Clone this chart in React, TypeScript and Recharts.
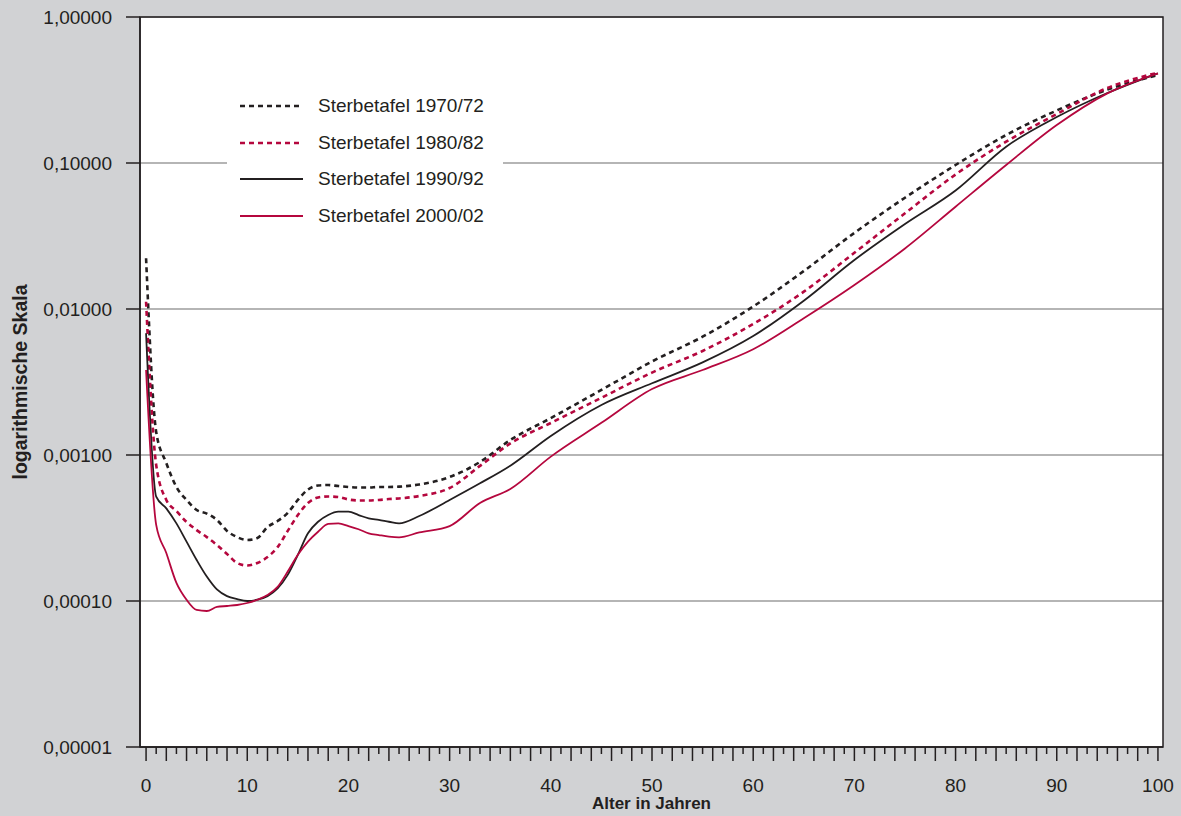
import { LineChart, Line, XAxis, YAxis, CartesianGrid, ReferenceArea, Legend } from "recharts";

// Alter in Jahren (einjährig bis 25, danach gröber)
const AGES = [
  0, 1, 2, 3, 4, 5, 6, 7, 8, 9, 10, 11, 12, 13, 14, 15, 16, 17, 18, 19, 20, 21, 22, 23, 24, 25,
  27, 30, 33, 36, 40, 45, 50, 55, 60, 65, 70, 75, 80, 85, 90, 95, 100,
];

// Sterbewahrscheinlichkeiten je Tafel
const TAFEL_1970_72 = [
  0.02225, 0.001437, 0.000881, 0.000604, 0.000492, 0.00042, 0.000397, 0.000359, 0.000302, 0.000274,
  0.000262, 0.00027, 0.000321, 0.000353, 0.000401, 0.000492, 0.00058, 0.000618, 0.000623, 0.000613,
  0.000604, 0.000599, 0.000599, 0.000604, 0.000604, 0.000607,
  0.000628, 0.000707, 0.000896, 0.001267, 0.00179, 0.00279, 0.00437, 0.00646, 0.0104, 0.0182,
  0.0332, 0.0578, 0.0969, 0.1555, 0.229, 0.318, 0.401,
];

const TAFEL_1980_82 = [
  0.01122, 0.000854, 0.000492, 0.000413, 0.000348, 0.000306, 0.000274, 0.000242, 0.00021, 0.000182,
  0.000175, 0.000182, 0.0002, 0.000234, 0.000302, 0.000388, 0.000469, 0.000512, 0.00052, 0.000516,
  0.000496, 0.000488, 0.000488, 0.000492, 0.000499, 0.000504,
  0.000524, 0.000594, 0.000842, 0.0012, 0.001656, 0.002465, 0.00367, 0.00516, 0.00789, 0.01314,
  0.02426, 0.04523, 0.0834, 0.1399, 0.2166, 0.3264, 0.4154,
];

const TAFEL_1990_92 = [
  0.00682, 0.000518, 0.000431, 0.00034, 0.000255, 0.000191, 0.000147, 0.00012, 0.000108, 0.000103,
  0.0001, 0.000102, 0.000108, 0.000122, 0.000151, 0.000207, 0.000291, 0.000349, 0.000388, 0.000409,
  0.000409, 0.000388, 0.000368, 0.000359, 0.000349, 0.00034,
  0.000382, 0.000492, 0.00064, 0.000845, 0.00135, 0.0022, 0.0031, 0.00431, 0.00653, 0.0114,
  0.02166, 0.0382, 0.0648, 0.1293, 0.2065, 0.3016, 0.4116,
];

const TAFEL_2000_02 = [
  0.00382, 0.000332, 0.000213, 0.000133, 0.000102, 0.0000868, 0.0000854, 0.000091, 0.0000924, 0.0000939,
  0.0000969, 0.000102, 0.00011, 0.000125, 0.000159, 0.000207, 0.000255, 0.000298, 0.000337, 0.00034,
  0.000326, 0.00031, 0.000291, 0.000283, 0.000276, 0.000273,
  0.000295, 0.000326, 0.000469, 0.000585, 0.000975, 0.00166, 0.00283, 0.00382, 0.0053, 0.00864,
  0.0146, 0.026, 0.0502, 0.0969, 0.182, 0.3, 0.4116,
];

const Y_TICKS = [0.00001, 0.0001, 0.001, 0.01, 0.1, 1];
const AGE_TICKS = Array.from({ length: 101 }, (_, i) => i);

const INK = "#231f20";
const CRIMSON = "#b5073e";
const FONT = '"Liberation Sans", Arial, Helvetica, sans-serif';

const SERIES = [
  { key: "t1970", name: "Sterbetafel 1970/72", color: INK, dash: "5 4", width: 2.6 },
  { key: "t1980", name: "Sterbetafel 1980/82", color: CRIMSON, dash: "5 4", width: 2.6 },
  { key: "t1990", name: "Sterbetafel 1990/92", color: INK, dash: undefined, width: 1.8 },
  { key: "t2000", name: "Sterbetafel 2000/02", color: CRIMSON, dash: undefined, width: 1.8 },
];

const data = AGES.map((age, i) => ({
  age,
  t1970: TAFEL_1970_72[i],
  t1980: TAFEL_1980_82[i],
  t1990: TAFEL_1990_92[i],
  t2000: TAFEL_2000_02[i],
}));

const formatProb = (v: number) => v.toFixed(5).replace(".", ",");

// long ticks on even years, short ones on odd years, label every 10
function AgeTick({ x, y, payload }: any) {
  const age = payload.value as number;
  return (
    <g>
      <line x1={x} x2={x} y1={y} y2={y + (age % 2 === 0 ? 14 : 7)} stroke={INK} strokeWidth={1.5} />
      {age % 10 === 0 && (
        <text x={x} y={y + 45} textAnchor="middle" fill={INK} fontSize={19} fontFamily={FONT}>
          {age}
        </text>
      )}
    </g>
  );
}

function LegendBox() {
  return (
    <div style={{ background: "#fff", width: 276, padding: "7.7px 0", fontFamily: FONT }}>
      {SERIES.map((s) => (
        <div key={s.key} style={{ display: "flex", alignItems: "center", height: 36.6 }}>
          <svg width={63} height={6} style={{ marginLeft: 13, marginRight: 15 }}>
            <line x1={0} x2={63} y1={3} y2={3} stroke={s.color} strokeWidth={s.width} strokeDasharray={s.dash} />
          </svg>
          <span style={{ fontSize: 19, color: INK, whiteSpace: "nowrap" }}>{s.name}</span>
        </div>
      ))}
    </div>
  );
}

export default function App() {
  return (
    <div style={{ position: "absolute", left: 0, top: 0, width: 1181, height: 816, background: "#d1d2d4" }}>
      <LineChart width={1181} height={816} data={data} margin={{ top: 17, right: 18, bottom: 9, left: 0 }}>
        <CartesianGrid vertical={false} stroke="#9c9c9c" strokeWidth={1.3} fill="#fff" fillOpacity={1} />
        <XAxis
          dataKey="age"
          type="number"
          domain={[-0.6, 100.5]}
          ticks={AGE_TICKS}
          interval={0}
          tick={<AgeTick />}
          tickLine={false}
          tickSize={0}
          tickMargin={0}
          height={60}
          axisLine={{ stroke: INK, strokeWidth: 1.5 }}
          label={{
            value: "Alter in Jahren",
            position: "insideBottom",
            offset: -2,
            style: { fill: INK, fontSize: 17, fontWeight: 700, fontFamily: FONT },
          }}
        />
        <YAxis
          type="number"
          scale="log"
          domain={[0.00001, 1]}
          ticks={Y_TICKS}
          interval={0}
          width={140}
          tickSize={14}
          tickMargin={14}
          tickFormatter={formatProb}
          tick={{ fill: INK, fontSize: 19, fontFamily: FONT }}
          tickLine={{ stroke: INK, strokeWidth: 1.5 }}
          axisLine={{ stroke: INK, strokeWidth: 1.5 }}
          label={{
            value: "logarithmische Skala",
            angle: -90,
            position: "insideLeft",
            offset: 20,
            style: { textAnchor: "middle", fill: INK, fontSize: 19.5, fontWeight: 700, fontFamily: FONT },
          }}
        />
        <ReferenceArea x1={-0.6} x2={100.5} y1={0.00001} y2={1} fill="none" stroke={INK} strokeWidth={1.5} />
        {SERIES.map((s) => (
          <Line
            key={s.key}
            dataKey={s.key}
            name={s.name}
            type="monotone"
            stroke={s.color}
            strokeWidth={s.width}
            strokeDasharray={s.dash}
            dot={false}
            activeDot={false}
            isAnimationActive={false}
          />
        ))}
        <Legend
          layout="horizontal"
          verticalAlign="middle"
          align="center"
          wrapperStyle={{ left: 227, top: 80, width: 276 }}
          content={() => <LegendBox />}
        />
      </LineChart>
    </div>
  );
}
